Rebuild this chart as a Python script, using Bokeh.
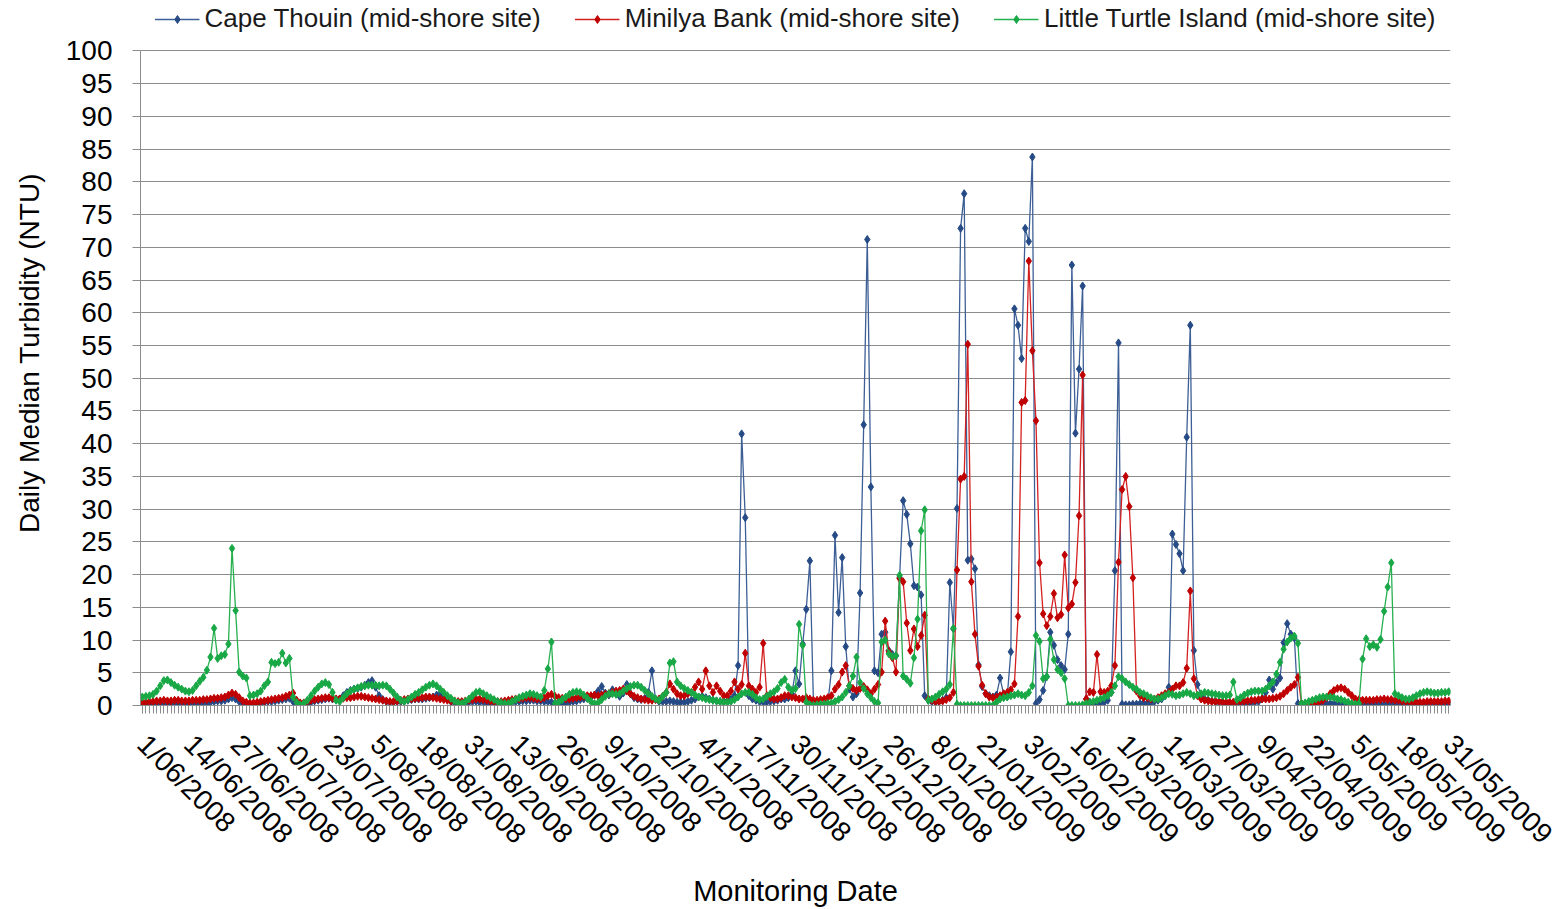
from bokeh.plotting import figure
from bokeh.models import Range1d, FixedTicker, Legend, LegendItem
from bokeh.embed import file_html
from bokeh.resources import INLINE

# ---------------- data ----------------
tick_days = list(range(0, 365, 13))
tick_labels = ["1/06/2008", "14/06/2008", "27/06/2008", "10/07/2008", "23/07/2008",
               "5/08/2008", "18/08/2008", "31/08/2008", "13/09/2008", "26/09/2008",
               "9/10/2008", "22/10/2008", "4/11/2008", "17/11/2008", "30/11/2008",
               "13/12/2008", "26/12/2008", "8/01/2009", "21/01/2009", "3/02/2009",
               "16/02/2009", "1/03/2009", "14/03/2009", "27/03/2009", "9/04/2009",
               "22/04/2009", "5/05/2009", "18/05/2009", "31/05/2009"]
y_ticks = list(range(0, 101, 5))

series_names = ["Cape Thouin (mid-shore site)", "Minilya Bank (mid-shore site)",
                "Little Turtle Island (mid-shore site)"]

cape_thouin = [
    0.3, 0.2, 0.2, 0.3, 0.3, 0.2, 0.2, 0.3, 0.2, 0.2, 0.3, 0.3, 0.2,
    0.2, 0.3, 0.3, 0.3, 0.4, 0.4, 0.5, 0.6, 0.7, 0.7, 0.8, 1.0, 1.2,
    1.0, 0.6, 0.3, 0.2, 0.2, 0.2, 0.3, 0.4, 0.5, 0.6, 0.6, 0.7, 0.8,
    0.9, 1.0, 1.1, 0.6, 0.2, 0.1, 0.2, 0.3, 0.5, 0.7, 0.8, 0.9, 1.0,
    1.1, 1.0, 0.9, 1.0, 1.5, 2.0, 2.3, 2.5, 2.6, 2.8, 3.1, 3.5, 3.8,
    2.8, 1.5, 0.9, 0.6, 0.5, 0.5, 0.6, 0.6, 0.7, 0.8, 0.9, 1.0, 1.0,
    1.0, 1.1, 1.2, 1.3, 1.6, 1.8, 1.5, 1.0, 0.6, 0.4, 0.3, 0.3, 0.4,
    0.5, 0.6, 0.6, 0.5, 0.5, 0.4, 0.4, 0.3, 0.3, 0.3, 0.4, 0.4, 0.5,
    0.6, 0.6, 0.7, 0.7, 0.8, 0.8, 0.7, 0.7, 0.6, 0.6, 0.5, 0.4, 0.3,
    0.3, 0.4, 0.5, 0.6, 0.7, 0.9, 1.0, 1.1, 1.3, 1.6, 2.2, 2.9, 1.9,
    1.6, 2.4, 1.8, 1.4, 1.9, 3.2, 1.8, 1.2, 1.0, 0.9, 1.1, 2.0, 5.3,
    1.0, 0.6, 0.6, 0.6, 0.7, 0.6, 0.5, 0.5, 0.5, 0.6, 0.8, 1.0, 1.3,
    1.4, 1.2, 1.0, 0.8, 0.7, 0.6, 0.6, 0.7, 0.9, 1.5, 6.1, 41.5, 28.7,
    1.5, 1.0, 0.8, 0.6, 0.5, 0.5, 0.6, 0.7, 0.8, 1.0, 1.0, 1.2, 1.8,
    5.3, 3.3, 9.4, 14.7, 22.1, 0.5, 0.2, 0.1, 0.1, 0.3, 5.3, 26.0, 14.2,
    22.6, 9.0, 2.5, 1.3, 1.8, 17.2, 42.9, 71.2, 33.4, 5.3, 5.0, 10.9, 11.2,
    8.4, 7.8, 7.6, 19.6, 31.3, 29.2, 24.7, 18.3, 18.1, 16.9, 1.5, 0.8, 0.6,
    0.5, 0.6, 0.8, 1.2, 18.8, 11.7, 30.1, 72.9, 78.2, 22.2, 22.4, 20.9, 6.2,
    2.9, 1.8, 1.5, 1.3, 1.6, 4.2, 1.7, 1.4, 8.2, 60.6, 58.1, 53.0, 72.9,
    70.9, 83.8, 0.3, 0.9, 2.3, 4.4, 11.2, 9.2, 7.0, 6.1, 5.5, 10.9, 67.3,
    41.6, 51.4, 64.1, 1.0, 0.5, 0.3, 0.3, 0.4, 0.5, 0.8, 2.0, 20.6, 55.4,
    0.2, 0.1, 0.1, 0.2, 0.2, 0.3, 0.4, 0.3, 0.4, 0.6, 0.8, 1.0, 1.5,
    2.8, 26.2, 24.6, 23.2, 20.6, 41.0, 58.1, 8.4, 3.2, 1.5, 1.0, 0.8, 0.7,
    0.6, 0.5, 0.5, 0.4, 0.4, 0.3, 0.3, 0.2, 0.2, 0.3, 0.4, 0.5, 0.6,
    1.0, 2.0, 3.9, 2.5, 3.5, 4.2, 9.6, 12.5, 10.9, 10.3, 0.3, 0.1, 0.1,
    0.1, 0.1, 0.2, 0.2, 0.2, 0.3, 0.3, 0.3, 0.3, 0.2, 0.2, 0.2, 0.2,
    0.2, 0.2, 0.3, 0.3, 0.3, 0.2, 0.2, 0.2, 0.2, 0.3, 0.3, 0.3, 0.3,
    0.3, 0.3, 0.3, 0.3, 0.3, 0.3, 0.3, 0.3, 0.3, 0.3, 0.3, 0.3, 0.3,
    0.3,
]

minilya_bank = [
    0.4, 0.5, 0.6, 0.6, 0.7, 0.7, 0.8, 0.7, 0.7, 0.8, 0.8, 0.7, 0.7,
    0.7, 0.8, 0.8, 0.8, 0.9, 0.9, 1.0, 1.1, 1.1, 1.2, 1.3, 1.6, 1.9,
    1.7, 1.2, 0.7, 0.5, 0.4, 0.4, 0.5, 0.6, 0.7, 0.8, 0.9, 1.0, 1.1,
    1.2, 1.4, 1.6, 1.9, 0.8, 0.4, 0.4, 0.6, 0.8, 0.9, 1.0, 1.1, 1.2,
    1.2, 1.1, 1.0, 1.0, 1.1, 1.2, 1.2, 1.3, 1.4, 1.4, 1.3, 1.2, 1.1,
    1.0, 0.9, 0.8, 0.7, 0.6, 0.6, 0.7, 0.8, 0.9, 1.0, 1.0, 1.1, 1.1,
    1.2, 1.3, 1.3, 1.2, 1.1, 1.0, 0.9, 0.8, 0.7, 0.7, 0.6, 0.6, 0.7,
    0.8, 0.9, 1.0, 1.0, 0.9, 0.8, 0.7, 0.6, 0.6, 0.6, 0.7, 0.8, 0.9,
    1.0, 1.0, 1.1, 1.2, 1.2, 1.1, 1.0, 1.0, 1.2, 1.5, 1.7, 1.4, 1.2,
    1.1, 1.0, 1.0, 1.1, 1.2, 1.3, 1.4, 1.5, 1.5, 1.6, 1.5, 1.6, 1.7,
    1.8, 2.0, 2.2, 2.3, 2.5, 2.2, 1.8, 1.4, 1.2, 1.0, 0.9, 0.8, 0.8,
    0.9, 1.0, 1.4, 2.0, 3.3, 2.5, 1.8, 1.5, 1.5, 1.8, 2.0, 2.8, 3.6,
    2.5, 5.3, 3.0, 2.0, 3.0, 2.2, 1.5, 1.5, 2.2, 3.6, 2.5, 3.2, 8.0,
    3.0, 2.5, 2.0, 2.8, 9.5, 1.5, 1.2, 1.0, 1.0, 1.2, 1.5, 1.5, 1.3,
    1.2, 1.0, 1.0, 1.2, 1.0, 0.8, 0.8, 0.9, 1.0, 1.2, 1.5, 2.5, 3.2,
    5.1, 6.1, 3.0, 2.6, 2.3, 2.6, 2.9, 2.4, 1.8, 2.5, 3.2, 5.1, 12.9,
    8.2, 7.3, 5.1, 19.4, 18.9, 12.6, 8.4, 11.7, 9.0, 10.7, 13.8, 1.0, 0.8,
    0.6, 0.6, 0.7, 0.9, 1.2, 2.0, 20.7, 34.6, 35.0, 55.2, 18.9, 10.9, 6.0,
    3.1, 1.8, 1.3, 1.2, 1.3, 1.5, 1.8, 2.0, 2.4, 3.3, 13.6, 46.3, 46.6,
    67.9, 54.2, 43.5, 21.8, 14.0, 12.2, 13.6, 17.1, 13.4, 13.9, 23.0, 14.9, 15.5,
    18.8, 29.0, 50.5, 1.0, 2.1, 2.0, 7.8, 2.1, 2.0, 2.2, 3.0, 6.1, 21.9,
    33.0, 35.0, 30.4, 19.5, 2.2, 1.5, 1.2, 1.2, 1.0, 1.0, 1.2, 1.5, 1.8,
    2.0, 2.5, 3.0, 3.0, 3.5, 5.7, 17.5, 4.1, 1.5, 1.0, 0.8, 0.7, 0.6,
    0.6, 0.6, 0.5, 0.5, 0.5, 0.5, 0.6, 0.6, 0.7, 0.7, 0.8, 0.8, 0.9,
    1.0, 1.0, 1.0, 1.1, 1.2, 1.4, 1.8, 2.3, 2.8, 3.2, 4.3, 0.3, 0.2,
    0.3, 0.4, 0.5, 0.6, 0.8, 1.2, 1.8, 2.3, 2.6, 2.7, 2.5, 2.0, 1.5,
    1.0, 0.9, 0.8, 0.8, 0.8, 0.8, 0.9, 0.9, 1.0, 0.9, 0.9, 0.8, 0.8,
    0.7, 0.6, 0.6, 0.5, 0.5, 0.5, 0.5, 0.6, 0.6, 0.6, 0.6, 0.6, 0.7,
    0.7,
]

little_turtle = [
    1.3, 1.4, 1.5, 1.7, 2.2, 3.0, 3.8, 3.9, 3.5, 3.1, 2.8, 2.5, 2.2,
    2.1, 2.3, 3.0, 3.7, 4.3, 5.4, 7.4, 11.8, 7.2, 7.6, 7.8, 9.4, 24.0,
    14.5, 5.1, 4.5, 4.2, 1.5, 1.6, 1.8, 2.2, 3.0, 3.6, 6.6, 6.4, 6.6,
    8.0, 6.5, 7.2, 1.3, 0.5, 0.1, 0.3, 0.8, 1.5, 2.2, 2.8, 3.3, 3.5,
    3.2, 2.0, 0.8, 0.6, 1.2, 1.8, 2.2, 2.5, 2.7, 2.9, 3.0, 3.1, 3.1,
    3.1, 3.0, 3.1, 3.0, 2.5, 1.9, 1.3, 0.8, 0.6, 0.9, 1.3, 1.7, 2.0,
    2.4, 2.8, 3.1, 3.3, 3.0, 2.5, 2.0, 1.5, 1.1, 0.7, 0.4, 0.3, 0.6,
    1.0, 1.5, 2.0, 2.1, 1.8, 1.5, 1.2, 0.9, 0.6, 0.4, 0.3, 0.3, 0.6,
    0.9, 1.2, 1.4, 1.6, 1.8, 1.7, 1.5, 1.3, 2.3, 5.6, 9.7, 0.3, 0.5,
    0.9, 1.3, 1.7, 2.0, 2.1, 2.0, 1.6, 1.1, 0.6, 0.3, 0.4, 0.9, 1.4,
    1.8, 1.8, 1.7, 1.8, 2.2, 2.6, 2.9, 3.1, 3.1, 2.8, 2.3, 1.8, 1.4,
    1.0, 0.8, 1.4, 2.0, 6.5, 6.7, 3.6, 3.0, 2.6, 2.3, 2.0, 1.6, 1.3,
    1.2, 1.0, 0.9, 0.8, 0.7, 0.6, 0.5, 0.5, 0.6, 0.9, 1.3, 1.8, 2.0,
    2.0, 1.7, 1.2, 0.9, 1.0, 1.4, 1.8, 2.1, 2.6, 3.5, 4.0, 2.8, 2.3,
    2.6, 12.4, 9.2, 0.5, 0.1, 0.0, 0.1, 0.2, 0.2, 0.3, 0.4, 0.6, 0.9,
    1.3, 2.0, 3.0, 4.5, 7.4, 3.5, 2.6, 1.8, 1.2, 0.6, 0.4, 9.7, 10.0,
    7.9, 7.5, 7.6, 19.9, 4.5, 4.0, 3.4, 7.3, 13.2, 26.7, 29.9, 0.8, 1.0,
    1.3, 1.7, 2.1, 2.5, 3.2, 11.8, 0.2, 0.0, 0.0, 0.0, 0.0, 0.0, 0.0,
    0.0, 0.0, 0.0, 0.0, 0.5, 1.0, 1.2, 1.3, 1.5, 1.6, 1.8, 1.6, 1.5,
    2.0, 3.0, 10.7, 9.8, 4.1, 4.4, 10.1, 7.0, 5.5, 5.0, 4.1, 0.0, 0.0,
    0.0, 0.0, 0.1, 0.3, 0.5, 0.6, 0.8, 1.0, 1.2, 1.5, 2.0, 3.0, 4.4,
    4.1, 3.6, 3.2, 2.8, 2.5, 2.0, 1.8, 1.5, 1.2, 1.0, 1.0, 1.2, 1.5,
    1.8, 1.7, 1.5, 1.6, 1.8, 2.0, 1.8, 1.5, 1.6, 1.8, 2.0, 1.9, 1.8,
    1.7, 1.6, 1.5, 1.5, 1.6, 3.6, 0.9, 1.2, 1.6, 1.9, 2.1, 2.2, 2.2,
    2.2, 2.5, 3.0, 3.6, 4.8, 6.6, 8.6, 9.7, 10.3, 10.6, 9.5, 0.3, 0.4,
    0.6, 0.8, 1.0, 1.2, 1.3, 1.3, 1.3, 1.2, 1.0, 0.9, 0.7, 0.5, 0.3,
    0.2, 0.3, 7.1, 10.2, 9.0, 9.3, 8.9, 10.1, 14.4, 18.1, 21.8, 1.8, 1.5,
    1.2, 1.0, 1.0, 1.2, 1.5, 1.8, 2.0, 2.1, 2.0, 1.9, 1.9, 2.0, 2.0,
    2.1,
]

days = list(range(len(cape_thouin)))
assert len(cape_thouin) == len(minilya_bank) == len(little_turtle) == 365

# ---------------- figure ----------------
FONT = "Liberation Sans"
GRID = "#8c8c8c"

# frame runs to the top of the page; value 100 sits 51 px below it,
# leaving room for the legend above the top gridline
Y_TOP = 100 + 51 / 6.61

p = figure(width=1568, height=909, output_backend="svg", toolbar_location=None,
           x_range=Range1d(-0.5, 364.5), y_range=Range1d(0, Y_TOP),
           min_border_left=140, min_border_right=118, min_border_top=0,
           min_border_bottom=197)
p.outline_line_color = None
p.background_fill_color = "white"
p.border_fill_color = "white"

# axes
p.xaxis.ticker = FixedTicker(ticks=tick_days, minor_ticks=days)
p.xaxis.major_label_overrides = {d: lab for d, lab in zip(tick_days, tick_labels)}
p.xaxis.major_label_orientation = -0.785398
p.xaxis.major_label_text_font = FONT
p.xaxis.major_label_text_font_size = "28px"
p.xaxis.major_label_text_color = "black"
p.xaxis.major_label_standoff = 26
p.xaxis.axis_line_color = GRID
p.xaxis.major_tick_line_color = GRID
p.xaxis.minor_tick_line_color = GRID
p.xaxis.major_tick_in = 0
p.xaxis.major_tick_out = 8
p.xaxis.minor_tick_in = 0
p.xaxis.minor_tick_out = 8
p.xaxis.axis_label = "Monitoring Date"
p.xaxis.axis_label_text_font = FONT
p.xaxis.axis_label_text_font_size = "29px"
p.xaxis.axis_label_text_font_style = "normal"
p.xaxis.axis_label_text_color = "black"
p.xaxis.axis_label_standoff = 11

p.yaxis.ticker = FixedTicker(ticks=y_ticks, minor_ticks=[])
p.yaxis.bounds = (0, 100)
p.yaxis.major_label_text_font = FONT
p.yaxis.major_label_text_font_size = "28px"
p.yaxis.major_label_text_color = "black"
p.yaxis.major_label_standoff = 20
p.yaxis.axis_line_color = GRID
p.yaxis.major_tick_line_color = GRID
p.yaxis.major_tick_in = 0
p.yaxis.major_tick_out = 8
p.yaxis.axis_label = "Daily Median Turbidity (NTU)"
p.yaxis.axis_label_text_font = FONT
p.yaxis.axis_label_text_font_size = "28px"
p.yaxis.axis_label_text_font_style = "normal"
p.yaxis.axis_label_text_color = "black"
p.yaxis.axis_label_standoff = 18

p.xgrid.visible = False
p.ygrid.ticker = FixedTicker(ticks=y_ticks[1:])
p.ygrid.grid_line_color = GRID
p.ygrid.grid_line_width = 1

# series
line_colors = ["#3d5f96", "#d42020", "#26b04f"]
mark_colors = ["#254a85", "#c00000", "#18a845"]
values = [cape_thouin, minilya_bank, little_turtle]

items = []
for name, vals, lc, mc in zip(series_names, values, line_colors, mark_colors):
    r_line = p.line(days, vals, line_color=lc, line_width=1.3)
    r_pts = p.scatter(days, vals, marker="diamond", size=8, fill_color=mc,
                      line_color=mc, line_width=1)
    items.append(LegendItem(label=name, renderers=[r_line, r_pts]))

legend = Legend(items=items, orientation="horizontal", location="top_center",
                label_text_font=FONT, label_text_font_size="26px",
                label_text_color="#1a1a1a", glyph_width=45, glyph_height=20,
                label_standoff=5, spacing=34, padding=5, margin=3,
                border_line_color=None, background_fill_alpha=0)
p.add_layout(legend, "center")

open("out.html", "w").write(file_html(p, INLINE))
